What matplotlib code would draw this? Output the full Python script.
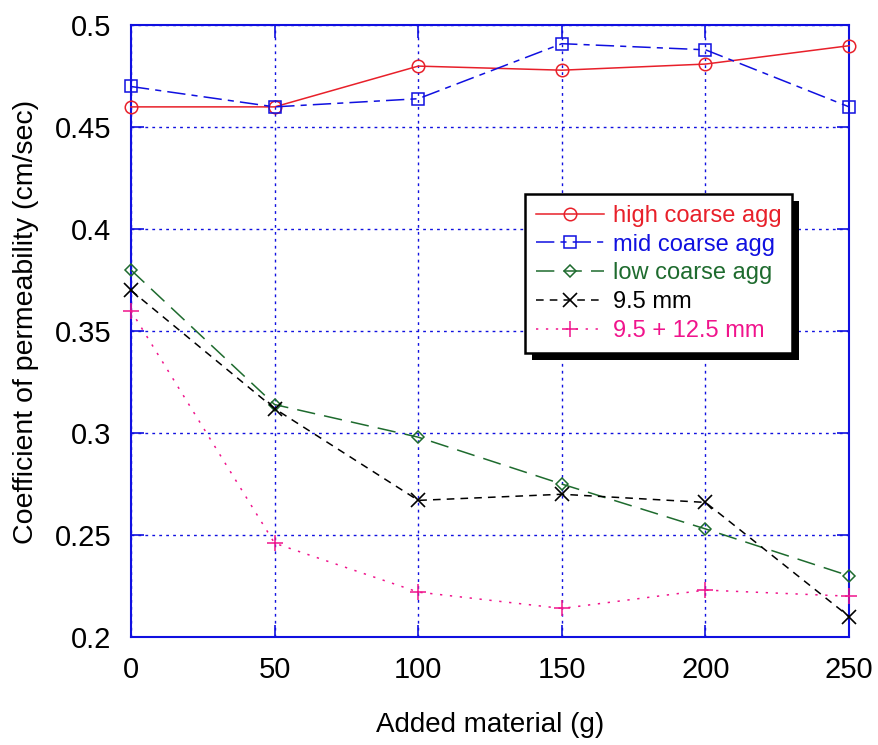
import matplotlib
matplotlib.use("Agg")
import matplotlib.pyplot as plt
from matplotlib import font_manager
import matplotlib.patheffects as pe

added_g = [0, 50, 100, 150, 200, 250]
high_coarse = [0.460, 0.460, 0.480, 0.478, 0.481, 0.490]
mid_coarse = [0.470, 0.460, 0.464, 0.491, 0.488, 0.460]
low_coarse = [0.380, 0.314, 0.298, 0.275, 0.253, 0.230]
mm_9_5 = [0.370, 0.312, 0.267, 0.270, 0.266, 0.210]
mm_9_5_12_5 = [0.360, 0.246, 0.222, 0.214, 0.223, 0.220]

x_ticks = [0, 50, 100, 150, 200, 250]
y_ticks = [0.2, 0.25, 0.3, 0.35, 0.4, 0.45, 0.5]
y_tick_labels = ["0.2", "0.25", "0.3", "0.35", "0.4", "0.45", "0.5"]

names = {f.name for f in font_manager.fontManager.ttflist}
base_font = "Liberation Sans" if "Liberation Sans" in names else "DejaVu Sans"
plt.rcParams["font.family"] = [base_font, "DejaVu Sans"]

BLUE = "#1010e0"
RED = "#e8202a"
GREEN = "#1e6b2e"
PINK = "#f0148c"

fig = plt.figure(figsize=(8.79, 7.45), dpi=100)
ax = fig.add_axes([0.149, 0.145, 0.817, 0.821])

common = dict(lw=1.1, clip_on=False, zorder=3)
ax.plot(added_g, high_coarse, color=RED, ls="-", marker="o",
        mfc="none", mec=RED, ms=9, mew=1.1, label="high coarse agg", **common)
ax.plot(added_g, mid_coarse, color=BLUE, ls=(0, (12, 4, 4, 4)), marker="s",
        mfc="none", mec=BLUE, ms=9, mew=1.1, label="mid coarse agg", **common)
ax.plot(added_g, low_coarse, color=GREEN, ls=(0, (12, 6)), marker="D",
        mfc="none", mec=GREEN, ms=6.5, mew=1.1, label="low coarse agg", **common)
ax.plot(added_g, mm_9_5, color="black", ls=(0, (5, 4)), marker="x",
        mec="black", ms=10, mew=1.2, label="9.5 mm", **common)
ax.plot(added_g, mm_9_5_12_5, color=PINK, ls=(0, (1.5, 5)), marker="+",
        mec=PINK, ms=11, mew=1.1, label="9.5 + 12.5 mm", **common)

ax.set_xlim(0, 250)
ax.set_ylim(0.2, 0.5)
ax.set_xticks(x_ticks)
ax.set_yticks(y_ticks)
ax.set_yticklabels(y_tick_labels)
ax.grid(True, color=BLUE, ls=(0, (2, 3)), lw=1.0)
ax.set_axisbelow(True)

for s in ax.spines.values():
    s.set_color(BLUE)
    s.set_linewidth(1.5)

ax.tick_params(axis="both", direction="in", length=9, width=1.2, color=BLUE,
               top=True, right=True, labelsize=21, pad=14)

ax.set_xlabel("Added material (g)", fontsize=20, labelpad=20)
ax.set_ylabel("Coefficient of permeability (cm/sec)", fontsize=20.5)
ax.yaxis.set_label_coords(-0.128, 0.515)

leg = ax.legend(loc="upper left", bbox_to_anchor=(0.549, 0.724), borderaxespad=0,
                fontsize=17, handlelength=2.9, handletextpad=0.35, labelspacing=0.29,
                borderpad=0.45, fancybox=False, shadow=False, framealpha=1,
                edgecolor="black")
leg.get_frame().set_linewidth(1.8)
leg.get_frame().set_path_effects([pe.SimplePatchShadow(offset=(5, -5), shadow_rgbFace="black", alpha=1.0),
                                  pe.Normal()])
for txt, col in zip(leg.get_texts(), [RED, BLUE, GREEN, "black", PINK]):
    txt.set_color(col)

fig.savefig("out.png", dpi=100)
